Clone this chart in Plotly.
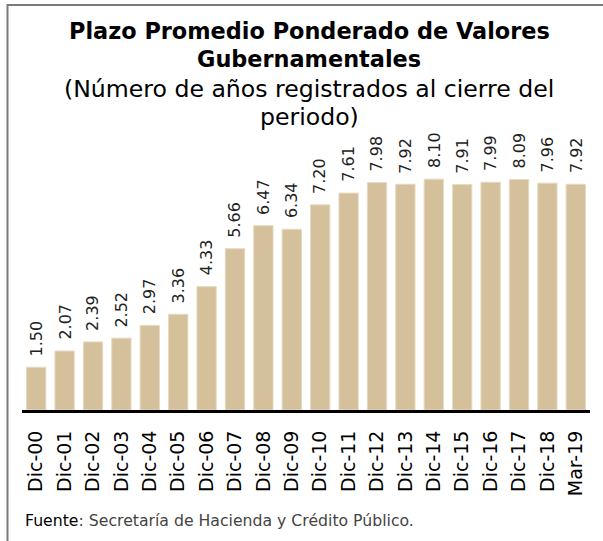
import plotly.graph_objects as go

categories = ["Dic-00", "Dic-01", "Dic-02", "Dic-03", "Dic-04", "Dic-05", "Dic-06",
              "Dic-07", "Dic-08", "Dic-09", "Dic-10", "Dic-11", "Dic-12", "Dic-13",
              "Dic-14", "Dic-15", "Dic-16", "Dic-17", "Dic-18", "Mar-19"]
values = [1.50, 2.07, 2.39, 2.52, 2.97, 3.36, 4.33, 5.66, 6.47, 6.34,
          7.20, 7.61, 7.98, 7.92, 8.10, 7.91, 7.99, 8.09, 7.96, 7.92]
value_labels = [f"{v:.2f}" for v in values]

W, H = 603, 541
ML, MR, MT, MB = 22, 13, 150, 131
plot_h = H - MT - MB
px_per_unit = 28.5
y_max = plot_h / px_per_unit

def py(ypx):
    return (H - MB - ypx) / plot_h

def px(xpx):
    return (xpx - ML) / (W - ML - MR)

FONT = "DejaVu Sans"

fig = go.Figure()
fig.add_trace(go.Bar(
    x=categories, y=values,
    marker=dict(color="#D4C19C", line=dict(color="#E6DAC2", width=1)),
    width=0.68,
    hoverinfo="x+y",
))

annotations = []
for c, v, t in zip(categories, values, value_labels):
    annotations.append(dict(
        x=c, y=v, xref="x", yref="y", text=t, showarrow=False,
        textangle=-90, yanchor="bottom", xanchor="center", yshift=9,
        font=dict(family=FONT, size=16, color="#222222"),
    ))

title_lines = [
    ("<b>Plazo Promedio Ponderado de Valores</b>", 31, 22.4),
    ("<b>Gubernamentales</b>", 59, 22.4),
    ("(Número de años registrados al cierre del", 89, 23.6),
    ("periodo)", 117, 23.6),
]
for text, ypix, size in title_lines:
    annotations.append(dict(
        x=px(309), y=py(ypix), xref="paper", yref="paper", text=text,
        showarrow=False, xanchor="center", yanchor="middle",
        font=dict(family=FONT, size=size, color="#000000"),
    ))

annotations.append(dict(
    x=px(23), y=py(520), xref="paper", yref="paper",
    text="<span style='color:#000000'>Fuente</span>: Secretaría de Hacienda y Crédito Público.",
    showarrow=False, xanchor="left", yanchor="middle",
    font=dict(family=FONT, size=15.7, color="#444444"),
))

fig.update_layout(
    width=W, height=H,
    margin=dict(l=ML, r=MR, t=MT, b=MB),
    paper_bgcolor="white", plot_bgcolor="white",
    showlegend=False,
    annotations=annotations,
    xaxis=dict(
        type="category", range=[-0.5, len(categories) - 0.5],
        showline=True, linecolor="#000000", linewidth=3,
        tickangle=-90, ticks="", showgrid=False,
        ticklabelstandoff=10,
        tickfont=dict(family=FONT, size=19, color="#000000"),
        fixedrange=True,
    ),
    yaxis=dict(range=[0, y_max], visible=False, showgrid=False, fixedrange=True),
    shapes=[dict(
        type="rect", xref="paper", yref="paper",
        x0=px(7.5), x1=px(700), y0=py(700), y1=py(5),
        line=dict(color="#7a7a7a", width=2), fillcolor="rgba(0,0,0,0)",
        layer="above",
    )],
)

fig.write_html(
    "out.html",
    config={"displayModeBar": False},
    post_script="document.body.style.margin='0';document.body.style.overflow='hidden';",
)
